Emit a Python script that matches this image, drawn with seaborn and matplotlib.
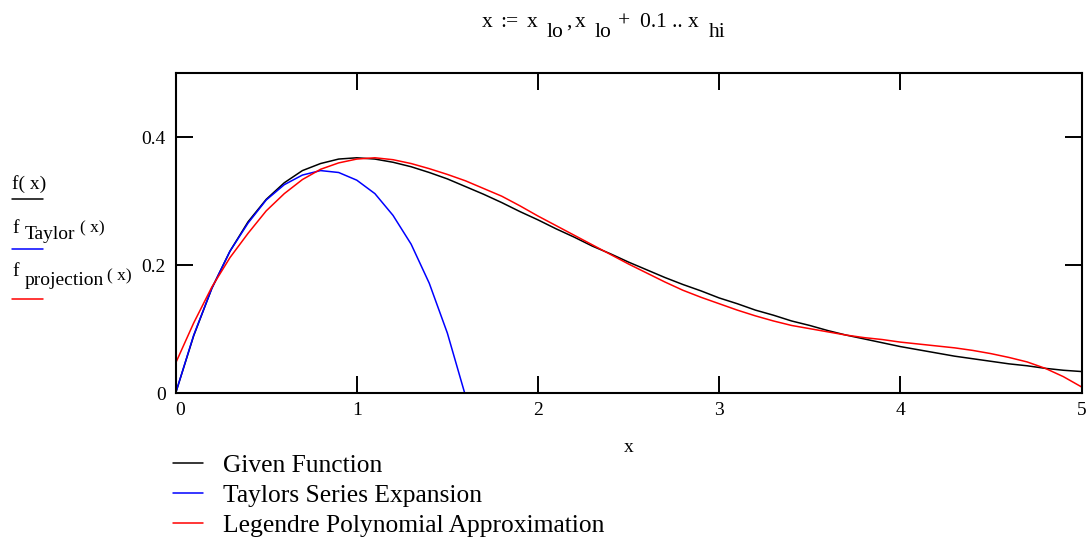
import numpy as np
import pandas as pd
import seaborn as sns
import matplotlib.pyplot as plt
from matplotlib.lines import Line2D

# x grid: x := x_lo, x_lo + 0.1 .. x_hi
x_grid = np.round(np.arange(0, 51) * 0.1, 1)

# values
f_given = [0.000, 0.090, 0.164, 0.222, 0.268, 0.303, 0.329, 0.348, 0.359, 0.366,
           0.368, 0.366, 0.361, 0.354, 0.345, 0.335, 0.323, 0.311, 0.298, 0.284,
           0.271, 0.257, 0.244, 0.230, 0.218, 0.205, 0.193, 0.181, 0.170, 0.160,
           0.149, 0.140, 0.130, 0.122, 0.113, 0.106, 0.098, 0.091, 0.085, 0.079,
           0.073, 0.068, 0.063, 0.058, 0.054, 0.050, 0.046, 0.043, 0.039, 0.036,
           0.034]

f_taylor = [0.000, 0.091, 0.164, 0.222, 0.266, 0.302, 0.326, 0.341, 0.348, 0.345,
            0.333, 0.312, 0.278, 0.233, 0.172, 0.094, -0.004]

f_projection = [0.047, 0.110, 0.166, 0.212, 0.250, 0.285, 0.312, 0.334, 0.350, 0.360,
                0.366, 0.368, 0.365, 0.359, 0.351, 0.342, 0.332, 0.320, 0.308, 0.293,
                0.277, 0.262, 0.247, 0.232, 0.217, 0.202, 0.188, 0.174, 0.161, 0.150,
                0.140, 0.130, 0.121, 0.113, 0.106, 0.101, 0.096, 0.091, 0.087, 0.084,
                0.080, 0.077, 0.074, 0.071, 0.067, 0.062, 0.056, 0.049, 0.039, 0.026,
                0.010]

series_labels = ["Given Function", "Taylors Series Expansion",
                 "Legendre Polynomial Approximation"]
series_colors = ["black", "blue", "red"]

x_ticks = [0, 1, 2, 3, 4, 5]
y_ticks = [0, 0.2, 0.4]
y_tick_labels = ["0", "0.2", "0.4"]

sns.set_style("white")
plt.rcParams["font.family"] = ["Liberation Serif", "DejaVu Serif"]
plt.rcParams["text.color"] = "black"

W, H = 1086, 543


def px(x, y):
    # pixel position (from top left) to figure fraction
    return x / W, 1 - y / H


fig = plt.figure(figsize=(W / 100, H / 100), dpi=100)
ax = fig.add_axes([175.6 / W, 1 - 393.3 / H, (1081.5 - 175.6) / W, 320 / H])

df_given = pd.DataFrame({"x": x_grid, "y": f_given})
df_taylor = pd.DataFrame({"x": x_grid[:len(f_taylor)], "y": f_taylor})
df_proj = pd.DataFrame({"x": x_grid, "y": f_projection})

for df, lab, col in zip([df_given, df_taylor, df_proj], series_labels, series_colors):
    sns.lineplot(data=df, x="x", y="y", color=col, lw=1.1, label=lab, ax=ax)

ax.set_xlim(0, 5)
ax.set_ylim(0, 0.5)
ax.set_xticks(x_ticks)
ax.set_xticklabels([str(t) for t in x_ticks])
ax.set_yticks(y_ticks)
ax.set_yticklabels(y_tick_labels)
ax.tick_params(direction="in", length=12, width=1.4, color="black",
               top=True, right=True, bottom=True, left=True,
               labelsize=14, labelcolor="black")
ax.tick_params(axis="x", pad=6.5)
ax.tick_params(axis="y", pad=7)
ax.get_xticklabels()[0].set_horizontalalignment("left")
for s in ax.spines.values():
    s.set_linewidth(1.5)
    s.set_color("black")
ax.set_xlabel("")
ax.set_ylabel("")

handles, labels = ax.get_legend_handles_labels()
ax.get_legend().remove()
fig.legend(handles, labels, loc="upper left", bbox_to_anchor=px(173, 454),
           frameon=False, fontsize=18.4, handlelength=30 / 25.6,
           handletextpad=20 / 25.6, labelspacing=0.28, borderpad=0,
           borderaxespad=0)

# x label
fig.text(*px(629, 447), "x", ha="center", va="center", fontsize=14)

# title:  x := x_lo, x_lo + 0.1 .. x_hi
title_pieces = [(482, 27, "x"), (500, 27, ":="), (527, 27, "x"), (547, 37, "lo"),
                (566, 27, ","), (575, 27, "x"), (595, 37, "lo"), (618, 27, "+"),
                (640, 27, "0.1 .. x"), (709, 37, "hi")]
for xp, yp, s in title_pieces:
    fig.text(*px(xp, yp), s, fontsize=15.5, va="baseline", ha="left")

# y label stack with coloured underlines
ylab_pieces = [(12, 189, "f( x)", 14), (12, 233, "f", 14), (25, 239, "Taylor", 14),
               (80, 232, "( x)", 12.5), (12, 276, "f", 14), (25, 285, "projection", 14),
               (107, 280, "( x)", 12.5)]
for xp, yp, s, fs in ylab_pieces:
    fig.text(*px(xp, yp), s, fontsize=fs, va="baseline", ha="left")

for yp, col in zip([199, 249, 299], series_colors):
    fig.add_artist(Line2D([12 / W, 43 / W], [1 - yp / H] * 2, color=col, lw=1.1))

plt.savefig("out.png", dpi=100)
